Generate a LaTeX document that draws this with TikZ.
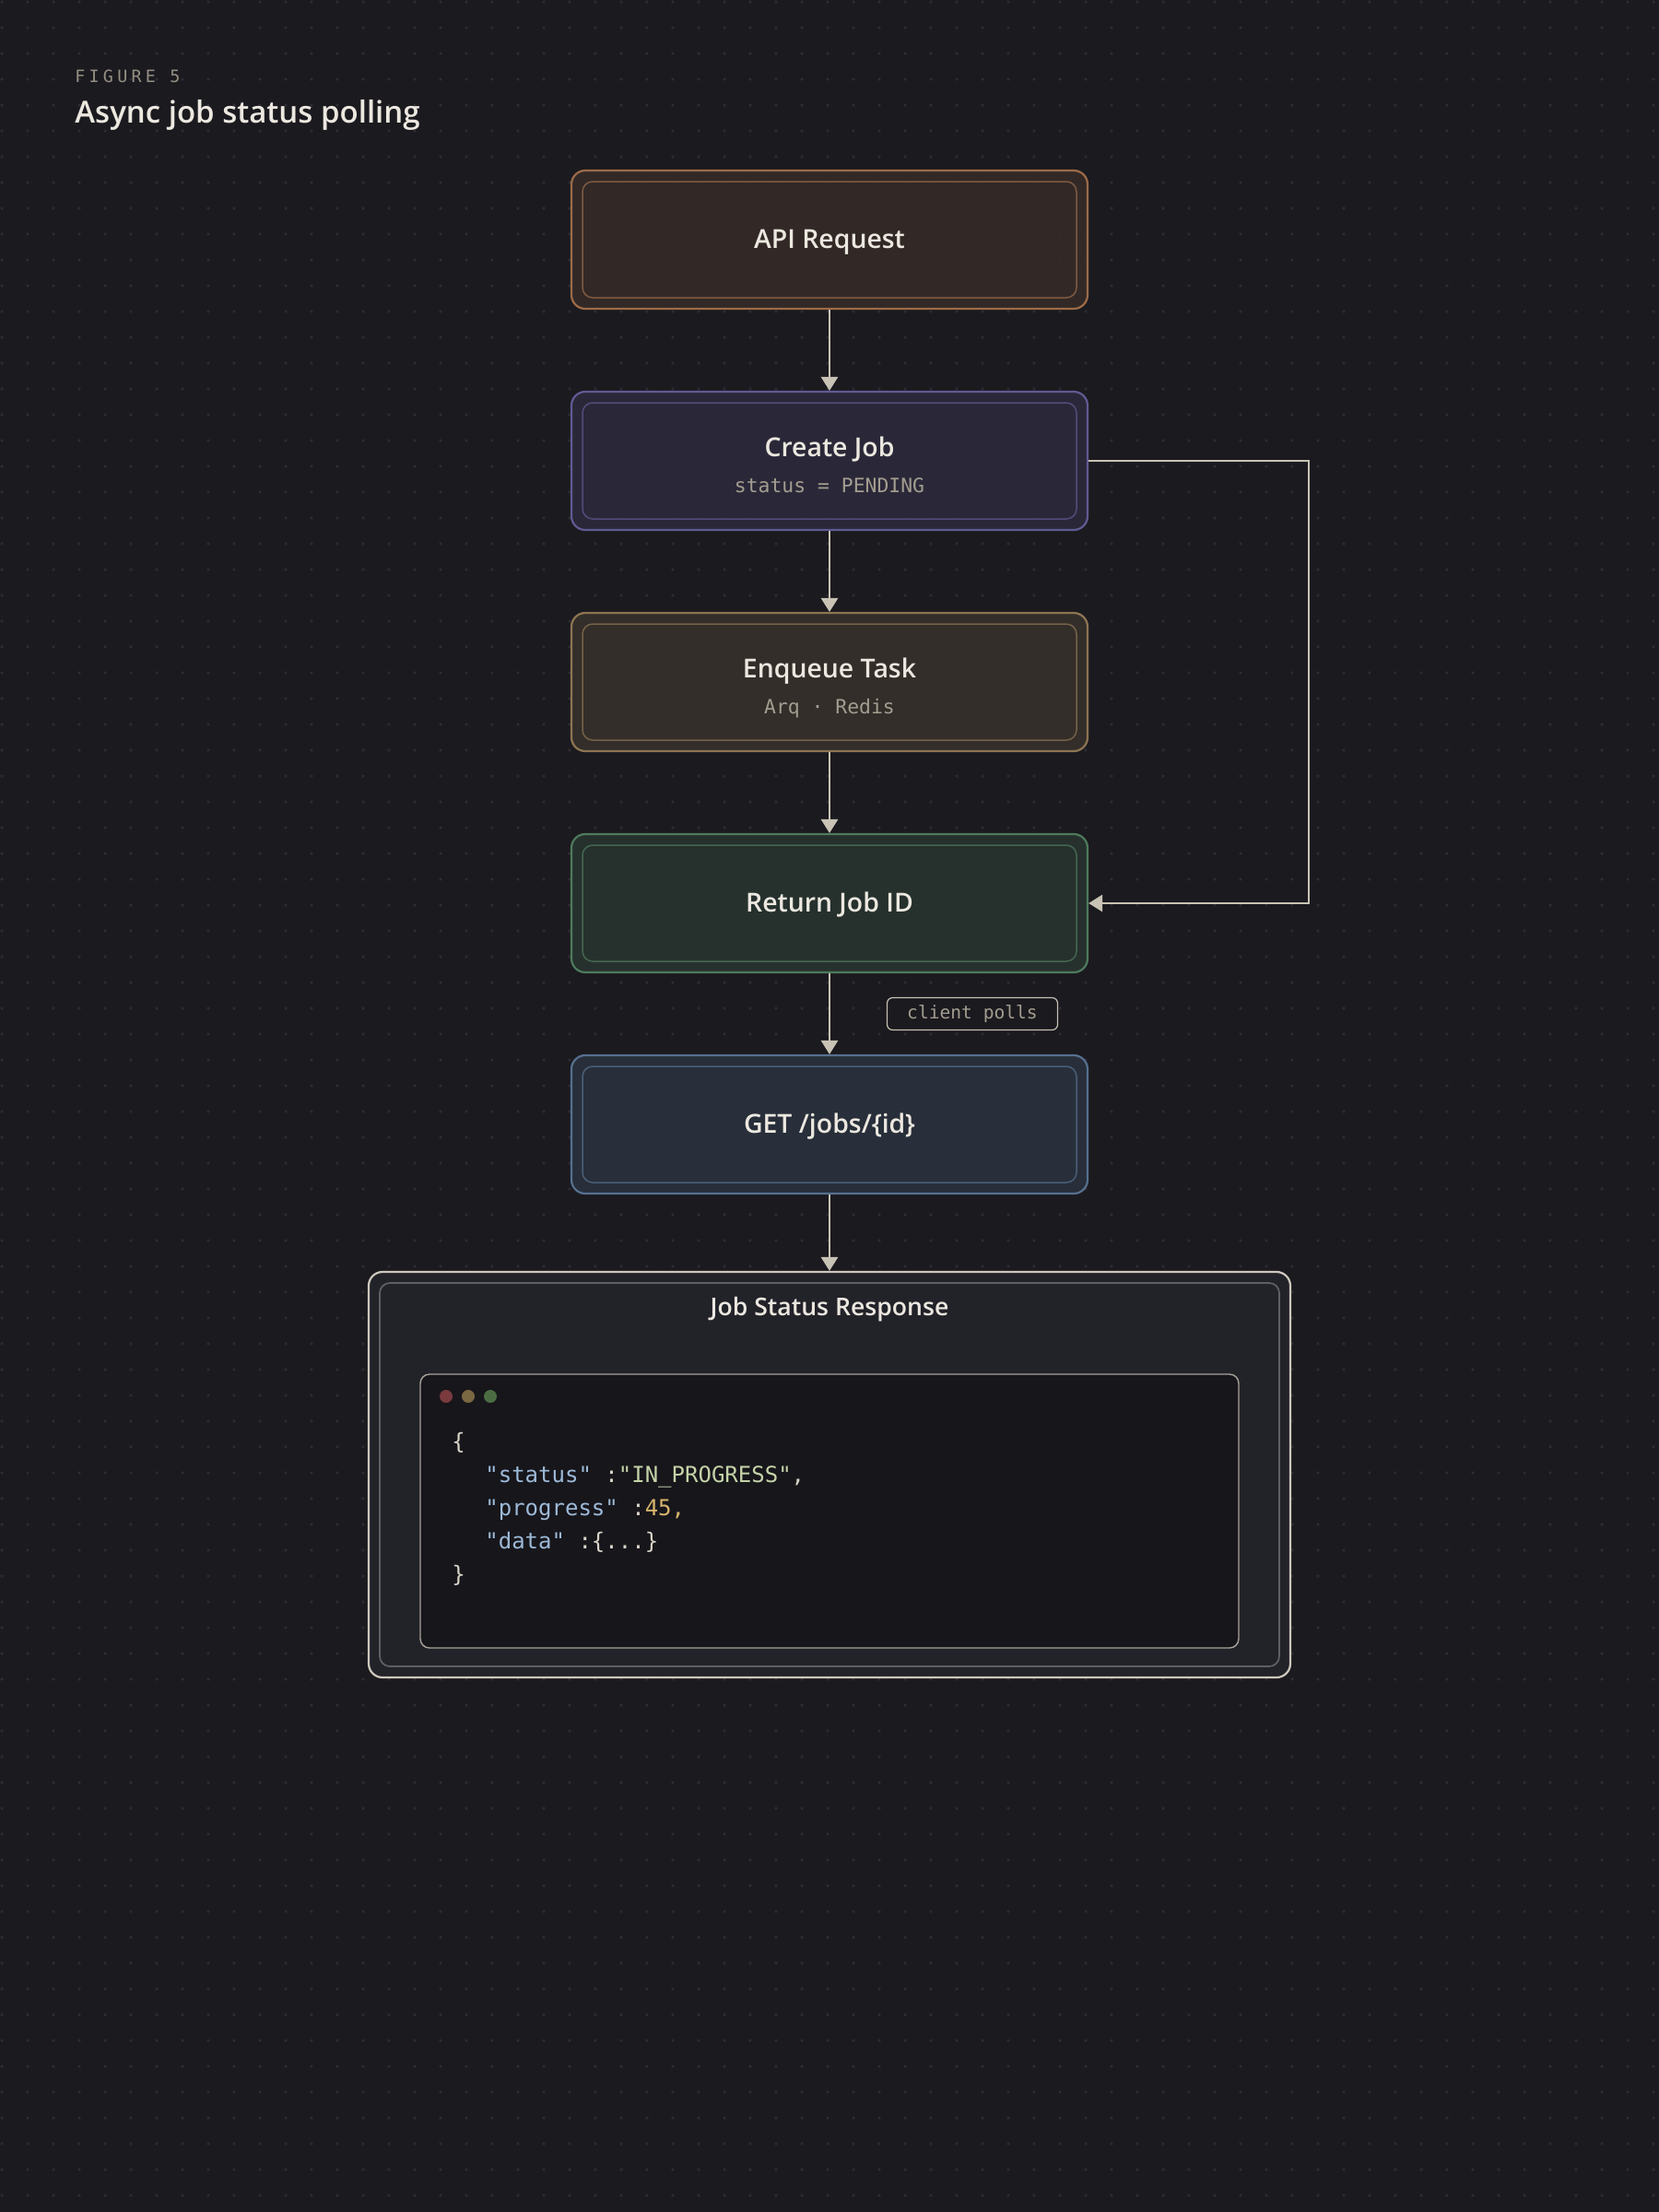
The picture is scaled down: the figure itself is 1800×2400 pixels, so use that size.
\documentclass[tikz,border=0pt]{standalone}
\usepackage{fontspec}
\setmainfont{Open Sans}[BoldFont={Open Sans Semibold}]
\setmonofont{DejaVu Sans Mono}
\newfontfamily\figmono{DejaVu Sans Mono}[LetterSpace=23]
\usepackage{tikz}
\usetikzlibrary{arrows.meta}

\definecolor{bg}{HTML}{1B1A1F}
\definecolor{griddot}{HTML}{2E2D34}
\definecolor{ink}{HTML}{ECE8E0}
\definecolor{subink}{HTML}{A39D90}
\definecolor{figgrey}{HTML}{948F83}
\definecolor{wire}{HTML}{C8C3B5}
\definecolor{apiedge}{HTML}{9C6B48}
\definecolor{apifill}{HTML}{352B28}
\definecolor{createedge}{HTML}{605A94}
\definecolor{createfill}{HTML}{2C2A3B}
\definecolor{queueedge}{HTML}{8E7552}
\definecolor{queuefill}{HTML}{36302B}
\definecolor{retedge}{HTML}{4E7A5C}
\definecolor{retfill}{HTML}{273330}
\definecolor{getedge}{HTML}{56708F}
\definecolor{getfill}{HTML}{2A313D}
\definecolor{respedge}{HTML}{CCC7BB}
\definecolor{respinner}{HTML}{5F5E64}
\definecolor{respfill}{HTML}{222229}
\definecolor{codeedge}{HTML}{A9A49A}
\definecolor{codefill}{HTML}{17161B}
\definecolor{jsonkey}{HTML}{9DBAD8}
\definecolor{jsonstr}{HTML}{C4D3A8}
\definecolor{jsonnum}{HTML}{D8B56C}
\definecolor{jsonpunct}{HTML}{D9D4C8}
\definecolor{dotred}{HTML}{7A3A3E}
\definecolor{dotamber}{HTML}{7A6842}
\definecolor{dotgreen}{HTML}{4C6D43}

\newcommand{\stagesub}[1]{{\mdseries\ttfamily\fontsize{10.7}{19.5}\selectfont\color{subink}#1}}

\begin{document}
\begin{tikzpicture}[
  x=0.5pt, y=-0.5pt,
  >={Triangle[length=7.5pt,width=9pt]},
  stage/.style={
      draw=#1edge,
      fill=#1fill,
      fill opacity=0.92,
      text opacity=1,
      line width=1.1pt,
      rounded corners=7.5pt,
      minimum width=280pt,
      minimum height=75pt,
      align=center,
      text=ink,
      text height=13pt,
      text depth=4pt,
      font=\bfseries\fontsize{14.2}{19.5}\selectfont,
      path picture={
          \draw[#1edge!72!#1fill, line width=0.75pt, rounded corners=5.5pt]
          ([shift={(6pt,-6pt)}]path picture bounding box.north west)
          rectangle
          ([shift={(-6pt,6pt)}]path picture bounding box.south east);
      }
  },
  twoline/.style={
      text height=36pt,
      text depth=2pt
  },
  respbox/.style={
      draw=respedge,
      fill=respfill,
      line width=1.1pt,
      rounded corners=7.5pt,
      minimum width=500pt,
      minimum height=220pt,
      path picture={
          \draw[respinner, line width=0.9pt, rounded corners=5.5pt]
          ([shift={(6pt,-6pt)}]path picture bounding box.north west)
          rectangle
          ([shift={(-6pt,6pt)}]path picture bounding box.south east);
      }
  },
  codewin/.style={
      draw=codeedge,
      fill=codefill,
      line width=0.7pt,
      rounded corners=5pt,
      minimum width=444pt,
      minimum height=148.5pt
  },
  codeline/.style={
      anchor=base west,
      inner sep=0pt,
      text=jsonpunct,
      font=\ttfamily\fontsize{12}{14}\selectfont
  },
  pollnote/.style={
      draw=wire,
      fill=bg,
      line width=0.6pt,
      rounded corners=3pt,
      minimum width=92.5pt,
      minimum height=17.5pt,
      inner sep=0pt,
      text=subink,
      font=\ttfamily\fontsize{9.8}{12}\selectfont
  },
  flow/.style={
      draw=wire,
      line width=1.4pt
  }
]

\useasboundingbox (0,0) rectangle (1800,2400);
\fill[bg] (0,0) rectangle (1800,2400);
% dot grid, one path per row
\foreach \gy in {2,30,...,2398}{
  \fill[griddot] \foreach \gx in {2,30,...,1798}{(\gx-1.3,\gy-1.3) rectangle ++(2.6,2.6)};
}

\node[anchor=base west, inner sep=0pt, text=figgrey, font=\figmono\fontsize{9.2}{11}\selectfont] (figtag) at (81,89) {FIGURE 5};
\node[anchor=base west, inner sep=0pt, text=ink, font=\bfseries\fontsize{16.5}{20}\selectfont] (figtitle) at (81,133) {Async job status polling};

\node[stage=api] (api) at (900,260) {API Request};

\node[stage=create, twoline] (create) at (900,500)
{
Create Job\\
\stagesub{status = PENDING}
};

\node[stage=queue, twoline] (queue) at (900,740)
{
Enqueue Task\\
\stagesub{Arq · Redis}
};

\node[stage=ret] (retid) at (900,980) {Return Job ID};

\node[pollnote] (polls) at (1055,1100) {client polls};

\node[stage=get] (getjob) at (900,1220) {GET /jobs/\{id\}};

\node[respbox] (resp) at (900,1600) {};
\node[anchor=base, text=ink, font=\bfseries\fontsize{13.3}{19}\selectfont] (resptitle) at (900,1427) {Job Status Response};

\node[codewin] (code) at (900,1639.5) {};
\fill[dotred] (484,1515) circle (3.5pt);
\fill[dotamber] (508,1515) circle (3.5pt);
\fill[dotgreen] (532,1515) circle (3.5pt);

\node[codeline] (jsonopen) at (490,1572) {\{};
\node[codeline] (jsonstatus) at (526,1608)
{\textcolor{jsonkey}{"status"} :\textcolor{jsonstr}{"IN\_PROGRESS"},};
\node[codeline] (jsonprogress) at (526,1644)
{\textcolor{jsonkey}{"progress"} :\textcolor{jsonnum}{45,}};
\node[codeline] (jsondata) at (526,1680)
{\textcolor{jsonkey}{"data"} :\{...\}};
\node[codeline] (jsonclose) at (490,1716) {\}};

\draw[->,flow] (api) -- (create);
\draw[->,flow] (create) -- (queue);
\draw[->,flow] (queue) -- (retid);
\draw[->,flow] (retid) -- (getjob);
\draw[->,flow] (getjob) -- (resp);

\coordinate (loopturn) at (1420,500);
\draw[->,flow] (create.east) -- (loopturn) |- (retid.east);

\end{tikzpicture}
\end{document}
